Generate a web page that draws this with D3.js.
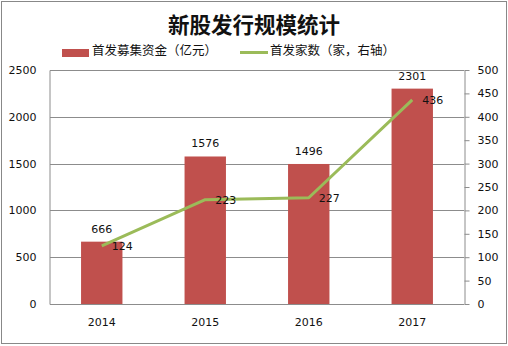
<!DOCTYPE html>
<html>
<head>
<meta charset="utf-8">
<script src="https://cdn.jsdelivr.net/npm/d3@7"></script>
<style>
  html, body { margin: 0; padding: 0; background: #fff; }
  svg { display: block; }
</style>
</head>
<body>
<svg id="chart" width="508" height="346"></svg>
<script>
// IPO scale data
const years = ["2014", "2015", "2016", "2017"];
const funds = [666, 1576, 1496, 2301];      // 首发募集资金（亿元）
const counts = [124, 223, 227, 436];        // 首发家数（家）
const leftTicks = [0, 500, 1000, 1500, 2000, 2500];
const rightTicks = [0, 50, 100, 150, 200, 250, 300, 350, 400, 450, 500];
const titleText = "新股发行规模统计";
const legendNames = ["首发募集资金（亿元）", "首发家数（家，右轴）"];

const svg = d3.select("#chart");
const barColor = "#C0504D", lineColor = "#9BBB59";
const gridColor = "#8c8c8c", textColor = "#111";
const numFont = "DejaVu Sans, Verdana, sans-serif";
const cjkFont = "Noto Sans CJK SC, sans-serif";
const fmt = d3.format("d");

// outer frame
svg.append("rect").attr("x", 1.5).attr("y", 1.5).attr("width", 505).attr("height", 342)
  .attr("fill", "#fff").attr("stroke", "#888").attr("stroke-width", 1);

const plot = { left: 50, right: 464, top: 70, bottom: 304 };

const x = d3.scaleBand().domain(years).range([plot.left, plot.right]).paddingInner(0.6).paddingOuter(0.3);
const yL = d3.scaleLinear().domain([0, 2500]).range([plot.bottom, plot.top]);
const yR = d3.scaleLinear().domain([0, 500]).range([plot.bottom, plot.top]);
const cx = d => x(d) + x.bandwidth() / 2;

// title
svg.append("text").attr("x", 254).attr("y", 33).attr("text-anchor", "middle")
  .attr("font-family", cjkFont).attr("font-weight", "bold").attr("font-size", 21.5)
  .attr("fill", "#111").text(titleText);

// legend
const lg = svg.append("g").attr("font-family", cjkFont).attr("font-size", 12.5).attr("fill", textColor);
lg.append("rect").attr("x", 62).attr("y", 49).attr("width", 27).attr("height", 8).attr("fill", barColor);
lg.append("text").attr("x", 92).attr("y", 55).text(legendNames[0]);
lg.append("line").attr("x1", 240).attr("x2", 268).attr("y1", 52.5).attr("y2", 52.5)
  .attr("stroke", lineColor).attr("stroke-width", 3);
lg.append("text").attr("x", 270).attr("y", 55).text(legendNames[1]);

// horizontal gridlines
svg.append("g").selectAll("line").data(leftTicks).join("line")
  .attr("x1", plot.left).attr("x2", plot.right)
  .attr("y1", d => Math.round(yL(d)) + 0.5).attr("y2", d => Math.round(yL(d)) + 0.5)
  .attr("stroke", gridColor).attr("stroke-width", 1);

// left axis
const axL = svg.append("g").attr("transform", `translate(${plot.left - 0.5},0)`)
  .call(d3.axisLeft(yL).tickValues(leftTicks).tickFormat(fmt).tickSize(0).tickPadding(13));
axL.select(".domain").attr("stroke", gridColor);
axL.selectAll("text").attr("font-family", numFont).attr("font-size", 11).attr("fill", textColor);

// right axis
const axR = svg.append("g").attr("transform", `translate(${plot.right + 0.5},0)`)
  .call(d3.axisRight(yR).tickValues(rightTicks).tickFormat(fmt).tickSize(5).tickSizeOuter(0).tickPadding(8));
axR.select(".domain").attr("stroke", gridColor);
axR.selectAll(".tick line").attr("stroke", gridColor);
axR.selectAll("text").attr("font-family", numFont).attr("font-size", 11).attr("fill", textColor);

// bars
svg.append("g").selectAll("rect").data(years).join("rect")
  .attr("x", d => x(d)).attr("width", x.bandwidth())
  .attr("y", (d, i) => yL(funds[i])).attr("height", (d, i) => plot.bottom - yL(funds[i]))
  .attr("fill", barColor);

// x axis labels
svg.append("g").selectAll("text").data(years).join("text")
  .attr("x", d => cx(d)).attr("y", 326).attr("text-anchor", "middle")
  .attr("font-family", numFont).attr("font-size", 11).attr("fill", textColor).text(d => d);

// bar value labels
svg.append("g").selectAll("text").data(years).join("text")
  .attr("x", d => cx(d)).attr("y", (d, i) => yL(funds[i]) - 9).attr("text-anchor", "middle")
  .attr("font-family", numFont).attr("font-size", 11).attr("fill", textColor)
  .text((d, i) => funds[i]);

// line series on right axis
const line = d3.line().x(d => cx(d[0])).y(d => yR(d[1]));
svg.append("path").datum(years.map((d, i) => [d, counts[i]]))
  .attr("d", line).attr("fill", "none").attr("stroke", lineColor)
  .attr("stroke-width", 3).attr("stroke-linejoin", "round");

// line value labels
svg.append("g").selectAll("text").data(years).join("text")
  .attr("x", d => cx(d) + 10).attr("y", (d, i) => yR(counts[i]) + 4)
  .attr("font-family", numFont).attr("font-size", 11).attr("fill", textColor)
  .text((d, i) => counts[i]);
</script>
</body>
</html>
